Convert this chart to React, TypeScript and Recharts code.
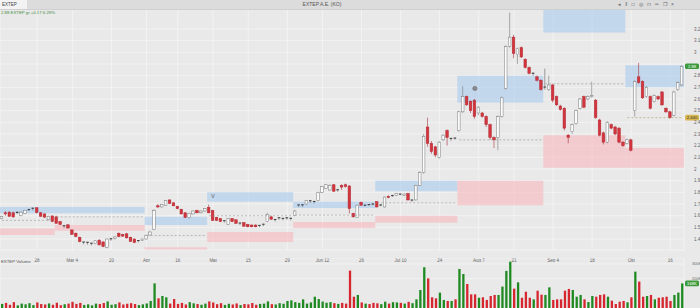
import React from 'react';
import {
  ComposedChart,
  Bar,
  XAxis,
  YAxis,
  CartesianGrid,
  ReferenceArea,
  ReferenceLine,
  ReferenceDot,
  Cell,
} from 'recharts';

// daily candles (175 sessions)
const opens = [
  1.575, 1.625, 1.63, 1.625, 1.625, 1.6, 1.62, 1.648, 1.662, 1.668,
  1.625, 1.615, 1.565, 1.598, 1.59, 1.55, 1.512, 1.522, 1.478, 1.45,
  1.415, 1.372, 1.37, 1.362, 1.36, 1.39, 1.375, 1.33, 1.4, 1.405,
  1.45, 1.44, 1.445, 1.415, 1.4, 1.385, 1.39, 1.4, 1.435, 1.48,
  1.685, 1.675, 1.69, 1.735, 1.71, 1.68, 1.655, 1.625, 1.585, 1.615,
  1.645, 1.625, 1.64, 1.672, 1.645, 1.585, 1.575, 1.555, 1.525, 1.575,
  1.565, 1.535, 1.54, 1.525, 1.52, 1.52, 1.515, 1.525, 1.55, 1.59,
  1.565, 1.58, 1.575, 1.58, 1.575, 1.6, 1.69, 1.69, 1.7, 1.725,
  1.72, 1.73, 1.8, 1.835, 1.82, 1.865, 1.82, 1.86, 1.865, 1.855,
  1.62, 1.585, 1.715, 1.685, 1.695, 1.7, 1.72, 1.69, 1.675, 1.765,
  1.77, 1.775, 1.785, 1.775, 1.79, 1.732, 1.735, 1.86, 1.97, 2.36,
  2.22, 2.19, 2.1, 2.25, 2.33, 2.26, 2.265, 2.33, 2.49, 2.62,
  2.58, 2.59, 2.48, 2.48, 2.45, 2.38, 2.27, 2.27, 2.45, 2.69,
  3.05, 3.13, 2.98, 3.04, 2.94, 2.87, 2.815, 2.79, 2.76, 2.7,
  2.68, 2.72, 2.62, 2.54, 2.52, 2.29, 2.32, 2.39, 2.52, 2.62,
  2.6, 2.62, 2.59, 2.42, 2.31, 2.23, 2.38, 2.36, 2.35, 2.23,
  2.22, 2.25, 2.5, 2.79, 2.75, 2.62, 2.62, 2.58, 2.62, 2.66,
  2.52, 2.49, 2.46, 2.68, 2.72,
];
const highs = [
  1.6, 1.64, 1.64, 1.635, 1.64, 1.64, 1.65, 1.66, 1.668, 1.672,
  1.63, 1.62, 1.6, 1.6, 1.6, 1.555, 1.518, 1.525, 1.482, 1.455,
  1.42, 1.378, 1.375, 1.368, 1.39, 1.4, 1.38, 1.405, 1.41, 1.425,
  1.455, 1.445, 1.45, 1.42, 1.405, 1.39, 1.405, 1.44, 1.47, 1.655,
  1.7, 1.7, 1.735, 1.74, 1.715, 1.685, 1.66, 1.63, 1.625, 1.645,
  1.65, 1.645, 1.665, 1.695, 1.65, 1.59, 1.58, 1.56, 1.58, 1.58,
  1.57, 1.54, 1.545, 1.53, 1.525, 1.525, 1.52, 1.53, 1.625, 1.6,
  1.57, 1.585, 1.58, 1.585, 1.58, 1.65, 1.695, 1.7, 1.735, 1.73,
  1.725, 1.805, 1.855, 1.87, 1.87, 1.87, 1.83, 1.87, 1.875, 1.86,
  1.625, 1.695, 1.72, 1.695, 1.7, 1.705, 1.725, 1.7, 1.765, 1.775,
  1.78, 1.795, 1.79, 1.79, 1.795, 1.74, 1.865, 1.98, 2.3, 2.44,
  2.24, 2.2, 2.24, 2.3, 2.34, 2.27, 2.27, 2.5, 2.71, 2.63,
  2.59, 2.6, 2.54, 2.49, 2.46, 2.39, 2.28, 2.46, 2.62, 3.06,
  3.34, 3.15, 3.04, 3.05, 2.95, 2.88, 2.83, 2.8, 2.77, 2.86,
  2.8, 2.73, 2.63, 2.55, 2.53, 2.3, 2.39, 2.51, 2.61, 2.63,
  2.63, 2.75, 2.6, 2.43, 2.32, 2.41, 2.39, 2.37, 2.36, 2.24,
  2.26, 2.26, 2.76, 2.91, 2.76, 2.71, 2.63, 2.64, 2.63, 2.67,
  2.53, 2.5, 2.67, 2.75, 2.89,
];
const lows = [
  1.57, 1.6, 1.59, 1.58, 1.615, 1.595, 1.615, 1.64, 1.645, 1.62,
  1.59, 1.58, 1.56, 1.545, 1.53, 1.52, 1.495, 1.49, 1.435, 1.415,
  1.372, 1.355, 1.352, 1.345, 1.355, 1.345, 1.33, 1.32, 1.385, 1.395,
  1.415, 1.42, 1.405, 1.375, 1.365, 1.37, 1.385, 1.395, 1.43, 1.475,
  1.665, 1.67, 1.685, 1.7, 1.68, 1.655, 1.61, 1.58, 1.575, 1.61,
  1.62, 1.62, 1.635, 1.62, 1.555, 1.555, 1.545, 1.54, 1.52, 1.545,
  1.53, 1.52, 1.505, 1.5, 1.5, 1.5, 1.5, 1.51, 1.545, 1.565,
  1.55, 1.565, 1.56, 1.565, 1.56, 1.595, 1.675, 1.675, 1.695, 1.71,
  1.705, 1.725, 1.795, 1.83, 1.815, 1.805, 1.805, 1.82, 1.84, 1.62,
  1.585, 1.58, 1.685, 1.68, 1.685, 1.69, 1.67, 1.68, 1.67, 1.75,
  1.76, 1.77, 1.775, 1.77, 1.73, 1.72, 1.73, 1.855, 1.96, 2.19,
  2.13, 2.1, 2.09, 2.24, 2.2, 2.24, 2.25, 2.32, 2.48, 2.54,
  2.48, 2.43, 2.46, 2.44, 2.36, 2.25, 2.18, 2.16, 2.44, 2.68,
  3.04, 2.95, 2.9, 2.95, 2.86, 2.81, 2.8, 2.75, 2.67, 2.68,
  2.67, 2.57, 2.54, 2.5, 2.33, 2.22, 2.3, 2.38, 2.51, 2.52,
  2.59, 2.61, 2.43, 2.28, 2.21, 2.22, 2.34, 2.29, 2.22, 2.19,
  2.21, 2.15, 2.45, 2.73, 2.6, 2.61, 2.51, 2.57, 2.59, 2.54,
  2.48, 2.43, 2.45, 2.67, 2.71,
];
const closes = [
  1.595, 1.615, 1.595, 1.59, 1.628, 1.63, 1.645, 1.652, 1.664, 1.628,
  1.595, 1.588, 1.595, 1.55, 1.535, 1.525, 1.514, 1.495, 1.44, 1.422,
  1.378, 1.374, 1.372, 1.364, 1.385, 1.35, 1.336, 1.4, 1.402, 1.418,
  1.422, 1.425, 1.41, 1.38, 1.37, 1.387, 1.4, 1.43, 1.46, 1.645,
  1.675, 1.695, 1.73, 1.705, 1.685, 1.66, 1.615, 1.585, 1.62, 1.64,
  1.625, 1.64, 1.66, 1.625, 1.56, 1.56, 1.55, 1.557, 1.575, 1.55,
  1.535, 1.537, 1.51, 1.505, 1.505, 1.505, 1.517, 1.527, 1.61, 1.57,
  1.567, 1.582, 1.577, 1.582, 1.578, 1.64, 1.692, 1.693, 1.73, 1.728,
  1.722, 1.8, 1.85, 1.865, 1.86, 1.81, 1.822, 1.845, 1.85, 1.66,
  1.59, 1.69, 1.69, 1.69, 1.69, 1.695, 1.675, 1.692, 1.76, 1.755,
  1.772, 1.79, 1.78, 1.785, 1.735, 1.734, 1.86, 1.97, 2.28, 2.22,
  2.15, 2.12, 2.23, 2.29, 2.27, 2.262, 2.26, 2.49, 2.62, 2.55,
  2.5, 2.45, 2.53, 2.45, 2.38, 2.27, 2.25, 2.45, 2.61, 3.05,
  3.13, 2.99, 3.03, 2.96, 2.87, 2.82, 2.82, 2.76, 2.68, 2.702,
  2.72, 2.59, 2.55, 2.51, 2.35, 2.27, 2.38, 2.5, 2.6, 2.53,
  2.62, 2.63, 2.44, 2.29, 2.23, 2.4, 2.35, 2.3, 2.23, 2.2,
  2.25, 2.16, 2.75, 2.74, 2.61, 2.7, 2.52, 2.63, 2.6, 2.55,
  2.49, 2.44, 2.66, 2.74, 2.88,
];
// volume in thousands
const volumes = [
  28, 35, 22, 40, 18, 30, 25, 33, 20, 38,
  27, 24, 31, 22, 36, 19, 26, 30, 42, 28,
  35, 21, 25, 18, 30, 27, 34, 45, 22, 26,
  38, 24, 29, 33, 27, 20, 25, 31, 48, 168,
  66, 82, 73, 30, 61, 28, 35, 24, 40, 32,
  27, 22, 30, 45, 38, 26, 33, 21, 29, 24,
  31, 20, 27, 25, 34, 22, 28, 30, 45, 26,
  24, 33, 29, 48, 52, 40, 35, 59, 30, 38,
  77, 61, 44, 36, 40, 33, 28, 35, 30, 255,
  77, 89, 38, 30, 27, 35, 32, 26, 43, 30,
  40, 38, 35, 30, 42, 33, 59, 123, 278, 202,
  73, 66, 105, 55, 48, 48, 59, 266, 232, 164,
  93, 93, 70, 73, 55, 82, 89, 89, 146, 253,
  316, 132, 175, 70, 111, 70, 59, 118, 91, 89,
  141, 55, 59, 59, 118, 130, 123, 77, 89, 59,
  41, 82, 77, 89, 93, 77, 50, 27, 43, 48,
  39, 73, 248, 180, 77, 82, 89, 59, 70, 73,
  77, 48, 89, 105, 168,
];

const dateTicks = [9, 18, 28, 37, 45, 54, 63, 73, 82, 92, 102, 112, 122, 131, 141, 151, 161, 171];
const dateLabels = ['28', 'Mar 4', '20', 'Apr', '16', 'Mai', '15', '29', 'Jun 12', '26', 'Jul 10', '24', 'Aug 7', '21', 'Sep 4', '18', 'Okt', '16'];
const priceTicks = [1.4, 1.5, 1.6, 1.7, 1.8, 1.9, 2, 2.1, 2.2, 2.3, 2.4, 2.5, 2.6, 2.7, 2.8, 2.9, 3, 3.1, 3.2];
const volumeTicks = [200, 300];

// zones: [first candle, last candle, low, high]
const blueZones = [
  [0, 13, 1.62, 1.675],
  [14, 36, 1.62, 1.675],
  [37, 52, 1.52, 1.59],
  [53, 74, 1.72, 1.8],
  [75, 95, 1.665, 1.72],
  [96, 116, 1.81, 1.9],
  [117, 138, 2.57, 2.8],
  [139, 159, 3.17, 3.365],
  [160, 174, 2.7, 2.89],
];
const redZones = [
  [0, 13, 1.435, 1.49],
  [14, 36, 1.47, 1.52],
  [37, 52, 1.31, 1.33],
  [53, 74, 1.375, 1.46],
  [75, 95, 1.495, 1.545],
  [96, 116, 1.54, 1.6],
  [117, 138, 1.69, 1.9],
  [139, 159, 2.01, 2.29],
  [160, 174, 2.01, 2.18],
];
const midLines = [
  [0, 13, 1.56],
  [14, 36, 1.59],
  [37, 52, 1.43],
  [53, 74, 1.6],
  [75, 95, 1.605],
  [96, 116, 1.71],
  [117, 138, 2.25],
  [139, 159, 2.73],
  [160, 174, 2.44],
];

const data = closes.map((c, i) => ({ i, o: opens[i], h: highs[i], l: lows[i], c, v: volumes[i] }));
const last = data[data.length - 1];

const UP = '#1f8a22';
const DOWN = '#d6262f';
const FONT = '"Liberation Sans", Arial, sans-serif';

const Candle = (props: any) => {
  const { x, y, width, height, payload } = props;
  const { o, h, l, c } = payload;
  const cx = x + width / 2;
  const span = h - l || 1e-6;
  const py = (v: number) => y + ((h - v) / span) * height;
  const top = py(Math.max(o, c));
  const bot = py(Math.min(o, c));
  const up = c >= o;
  const doji = Math.abs(c - o) < 0.006;
  const bw = 2.6;
  if (doji) {
    return (
      <g>
        <line x1={cx} x2={cx} y1={y} y2={y + height} stroke="#666" strokeWidth={0.6} />
        <rect x={cx - bw / 2} y={top - 0.5} width={bw} height={1} fill="#3a3a3a" />
      </g>
    );
  }
  const wick = up ? '#7a7a7a' : '#a8323a';
  return (
    <g>
      <line x1={cx} x2={cx} y1={y} y2={y + height} stroke={wick} strokeWidth={0.6} />
      <rect
        x={cx - bw / 2}
        y={top}
        width={bw}
        height={Math.max(bot - top, 0.8)}
        fill={up ? '#fbfbfb' : '#d3353f'}
        stroke={up ? '#7a7a7a' : '#b22a33'}
        strokeWidth={0.5}
      />
    </g>
  );
};

const tag = (text: string, fill: string, color: string) => (props: any) => {
  const vb = props.viewBox || {};
  const tx = vb.x + vb.width + 1;
  const ty = vb.y;
  return (
    <g>
      <rect x={tx} y={ty - 2.8} width={14} height={5.6} rx={1.5} fill={fill} />
      <text x={tx + 7} y={ty + 1.6} fontSize={4.2} textAnchor="middle" fill={color} fontFamily={FONT}>
        {text}
      </text>
    </g>
  );
};

const tickLabel = (v: number) => {
  const k = dateTicks.indexOf(v);
  return k >= 0 ? dateLabels[k] : '';
};

const App = () => {
  return (
    <div
      style={{
        position: 'absolute',
        left: 0,
        top: 0,
        width: 700,
        height: 308,
        background: '#e9e9e9',
        overflow: 'hidden',
        fontFamily: FONT,
      }}
    >
      <div style={{ position: 'absolute', left: 0, top: 0 }}>
        <ComposedChart width={700} height={262} data={data} margin={{ top: 9, right: 0, bottom: 0, left: 0 }} barCategoryGap={0}>
          <CartesianGrid stroke="#f5f5f5" strokeWidth={0.8} />
          {blueZones.map((z, k) => (
            <ReferenceArea key={`b${k}`} x1={z[0]} x2={z[1]} y1={z[2]} y2={z[3]} fill="#a9c9ee" fillOpacity={0.6} stroke="none" />
          ))}
          {redZones.map((z, k) => (
            <ReferenceArea key={`r${k}`} x1={z[0]} x2={z[1]} y1={z[2]} y2={z[3]} fill="#f8b7be" fillOpacity={0.6} stroke="none" />
          ))}
          {midLines.map((m, k) => (
            <ReferenceLine
              key={`m${k}`}
              segment={[{ x: m[0], y: m[2] }, { x: m[1], y: m[2] }]}
              stroke={k === midLines.length - 1 ? '#a89a5a' : '#959595'}
              strokeDasharray="2 2"
              strokeWidth={0.6}
            />
          ))}
          <XAxis
            dataKey="i"
            ticks={dateTicks}
            interval={0}
            tickFormatter={tickLabel}
            height={12}
            tickLine={false}
            axisLine={false}
            tickMargin={3}
            tick={{ fontSize: 4.5, fill: '#666', fontFamily: FONT }}
          />
          <YAxis
            orientation="right"
            width={16}
            domain={[1.306, 3.371]}
            allowDataOverflow
            ticks={priceTicks}
            interval={0}
            tickFormatter={(v: number) => (Math.abs(v - 2.9) < 0.001 ? '' : String(Number(v.toFixed(1))))}
            tickLine={false}
            axisLine={false}
            tickMargin={4}
            tick={{ fontSize: 4.5, fill: '#666', fontFamily: FONT }}
          />
          <Bar dataKey={(d: any) => [d.l, d.h]} shape={<Candle />} isAnimationActive={false} barSize={3} />
          <ReferenceDot x={121} y={2.69} r={2.1} fill="#8d8d8d" stroke="#555" strokeWidth={0.5} />
          <ReferenceDot
            x={54}
            y={1.765}
            r={0.01}
            fill="none"
            stroke="none"
            label={{ value: 'V', fontSize: 5, fill: '#555', position: 'center' }}
          />
          <ReferenceLine y={2.44} stroke="none" label={tag('2.440', '#d8b650', '#333')} />
          <ReferenceLine y={last.c} stroke="none" label={tag(last.c.toFixed(2), '#3c9a3c', '#fff')} />
        </ComposedChart>
      </div>

      <div style={{ position: 'absolute', left: 0, top: 258 }}>
        <ComposedChart width={700} height={50} data={data} margin={{ top: 0, right: 0, bottom: 0, left: 0 }} barCategoryGap={0}>
          <CartesianGrid stroke="#f5f5f5" strokeWidth={0.8} />
          <XAxis dataKey="i" ticks={dateTicks} interval={0} height={0} tick={false} tickLine={false} axisLine={false} />
          <YAxis
            orientation="right"
            width={16}
            domain={[0, 341]}
            allowDataOverflow
            ticks={volumeTicks}
            interval={0}
            tickFormatter={(v: number) => `${v}K`}
            tickLine={false}
            axisLine={false}
            tickMargin={2}
            tick={{ fontSize: 4, fill: '#666', fontFamily: FONT }}
          />
          <Bar dataKey="v" barSize={2.3} isAnimationActive={false}>
            {data.map((d) => (
              <Cell key={d.i} fill={d.c >= d.o ? UP : DOWN} />
            ))}
          </Bar>
          <ReferenceLine y={last.v} stroke="none" label={tag(`${last.v}K`, '#3c9a3c', '#fff')} />
        </ComposedChart>
      </div>

      {/* header bar */}
      <div style={{ position: 'absolute', left: 0, top: 0, width: 700, height: 9, background: '#dcdcdc', borderBottom: '1px solid #cfcfcf' }}>
        <div
          style={{
            position: 'absolute',
            left: 0,
            top: 0,
            width: 27,
            height: 9,
            background: '#f3f3f3',
            fontSize: 4.5,
            lineHeight: '9px',
            paddingLeft: 2,
            color: '#444',
            boxSizing: 'border-box',
          }}
        >
          EXTEP
        </div>
        <div style={{ position: 'absolute', left: 292, width: 60, top: 0, textAlign: 'center', fontSize: 5, lineHeight: '9px', color: '#555' }}>
          EXTEP A.E. (KO)
        </div>
        <div style={{ position: 'absolute', left: 618, top: 0, fontSize: 5, lineHeight: '9px', color: '#666', letterSpacing: 4.2 }}>
          ◂‖□◎⊓═❐×
        </div>
      </div>
      <div style={{ position: 'absolute', left: 1, top: 10, fontSize: 4.3, color: '#3d8b3d', whiteSpace: 'nowrap' }}>
        2.88 EXTEP gr +0.17 6.29%
      </div>
      <div style={{ position: 'absolute', left: 1, top: 259, fontSize: 4.3, color: '#555', whiteSpace: 'nowrap' }}>EXTEP Volume</div>
    </div>
  );
};

export default App;
